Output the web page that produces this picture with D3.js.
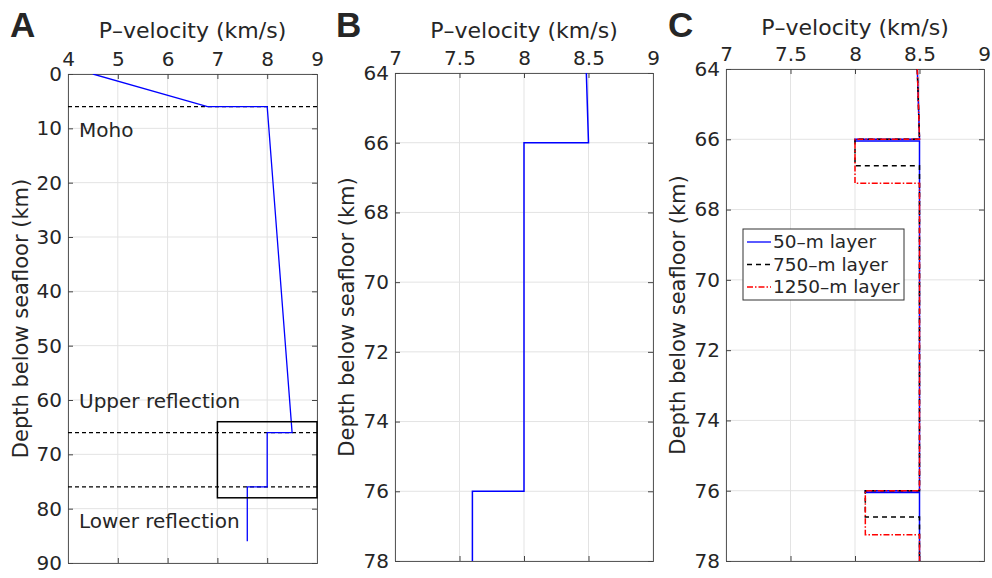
<!DOCTYPE html>
<html>
<head>
<meta charset="utf-8">
<script src="https://cdn.jsdelivr.net/npm/d3@7"></script>
<style>
  body { margin: 0; background: #fff; }
  text { font-family: "DejaVu Sans", sans-serif; fill: #262626; }
</style>
</head>
<body>
<script>
var w = 992, h = 578;

// panel A: full velocity profile
var velA = [4.5, 6.8, 8.0, 8.5, 8.0, 8.0, 7.6, 7.6];
var depthA = [0, 6, 6, 66, 66, 76, 76, 86];
var reflectorDepths = [6, 66, 76];
var zoomBox = { v0: 7, v1: 9, d0: 64, d1: 78 };
var xTicksA = [4, 5, 6, 7, 8, 9], yTicksA = [0, 10, 20, 30, 40, 50, 60, 70, 80, 90];

// panels B and C: zoomed window
var xTicksBC = [7, 7.5, 8, 8.5, 9], yTicksBC = [64, 66, 68, 70, 72, 74, 76, 78];

// panel C: thin low-velocity layers
var depth50 = [64, 66, 66, 66.05, 66.05, 76, 76, 76.05, 76.05, 78];
var depth750 = [64, 66, 66, 66.75, 66.75, 76, 76, 76.75, 76.75, 78];
var depth1250 = [64, 66, 66, 67.25, 67.25, 76, 76, 77.25, 77.25, 78];
var velLayer = [8.483, 8.5, 8.0, 8.0, 8.5, 8.5, 8.08, 8.08, 8.5, 8.5];
var layerNames = ["50–m layer", "750–m layer", "1250–m layer"];

var svg = d3.select("body").append("svg").attr("width", w).attr("height", h);
var defs = svg.append("defs");

function panel(cfg) {
    var x = d3.scaleLinear().domain(cfg.xd).range([cfg.l, cfg.r]);
    var y = d3.scaleLinear().domain(cfg.yd).range([cfg.t, cfg.b]);
    var g = svg.append("g");

    defs.append("clipPath").attr("id", "clip" + cfg.id)
        .append("rect").attr("x", cfg.l).attr("y", cfg.t)
        .attr("width", cfg.r - cfg.l).attr("height", cfg.b - cfg.t);

    // grid
    g.selectAll(".gx").data(cfg.xt).enter().append("line")
        .attr("x1", d => x(d)).attr("x2", d => x(d))
        .attr("y1", cfg.t).attr("y2", cfg.b)
        .attr("stroke", "#e3e3e3").attr("stroke-width", 1);
    g.selectAll(".gy").data(cfg.yt).enter().append("line")
        .attr("y1", d => y(d)).attr("y2", d => y(d))
        .attr("x1", cfg.l).attr("x2", cfg.r)
        .attr("stroke", "#e3e3e3").attr("stroke-width", 1);

    // axes with inward ticks on all four sides
    var top = g.append("g").attr("transform", "translate(0," + cfg.t + ")")
        .call(d3.axisTop(x).tickValues(cfg.xt).tickSize(-5).tickPadding(8).tickFormat(d3.format("~g")));
    var bot = g.append("g").attr("transform", "translate(0," + cfg.b + ")")
        .call(d3.axisBottom(x).tickValues(cfg.xt).tickSize(-5).tickFormat(""));
    var left = g.append("g").attr("transform", "translate(" + cfg.l + ",0)")
        .call(d3.axisLeft(y).tickValues(cfg.yt).tickSize(-5).tickPadding(6).tickFormat(d3.format("~g")));
    var right = g.append("g").attr("transform", "translate(" + cfg.r + ",0)")
        .call(d3.axisRight(y).tickValues(cfg.yt).tickSize(-5).tickFormat(""));
    [top, bot, left, right].forEach(a => {
        a.select(".domain").attr("stroke", "#5a5a5a");
        a.selectAll(".tick line").attr("stroke", "#444");
        a.selectAll("text").style("font-size", "20px").attr("fill", "#262626")
            .style("font-family", '"DejaVu Sans", sans-serif');
    });

    // titles
    g.append("text").attr("x", (cfg.l + cfg.r) / 2).attr("y", cfg.tt)
        .attr("text-anchor", "middle").style("font-size", "22px")
        .text("P–velocity (km/s)");
    g.append("text").attr("transform", "translate(" + cfg.yl + "," + ((cfg.t + cfg.b) / 2) + ") rotate(-90)")
        .attr("text-anchor", "middle").style("font-size", "21px")
        .text("Depth below seafloor (km)");
    g.append("text").attr("x", cfg.lx).attr("y", 37)
        .style("font-family", '"Liberation Sans", Arial, sans-serif')
        .style("font-weight", "bold").style("font-size", "35px").attr("fill", "#000")
        .text(cfg.id);

    var plot = g.append("g").attr("clip-path", "url(#clip" + cfg.id + ")");
    return { x: x, y: y, g: g, plot: plot };
}

function profile(vs, ds) {
    return vs.map((v, i) => [v, ds[i]]);
}

// ---- A ----
var A = panel({ id: "A", xd: [4, 9], yd: [0, 90], xt: xTicksA, yt: yTicksA,
    l: 68, r: 317, t: 74, b: 563, tt: 38, yl: 28, lx: 10 });
var lineA = d3.line().x(d => A.x(d[0])).y(d => A.y(d[1]));
A.plot.selectAll(".refl").data(reflectorDepths).enter().append("line")
    .attr("x1", A.x(4)).attr("x2", A.x(9))
    .attr("y1", d => A.y(d)).attr("y2", d => A.y(d))
    .attr("stroke", "#000").attr("stroke-width", 1.3).attr("stroke-dasharray", "4,3");
A.plot.append("path").datum(profile(velA, depthA))
    .attr("d", lineA).attr("fill", "none").attr("stroke", "#0000ff").attr("stroke-width", 1.3);
A.g.append("rect")
    .attr("x", A.x(zoomBox.v0)).attr("y", A.y(zoomBox.d0))
    .attr("width", A.x(zoomBox.v1) - A.x(zoomBox.v0))
    .attr("height", A.y(zoomBox.d1) - A.y(zoomBox.d0))
    .attr("fill", "none").attr("stroke", "#000").attr("stroke-width", 1.5);
A.g.append("text").attr("x", 79).attr("y", 137).style("font-size", "20px").text("Moho");
A.g.append("text").attr("x", 79).attr("y", 408).style("font-size", "20px").text("Upper reflection");
A.g.append("text").attr("x", 79).attr("y", 528).style("font-size", "20px").text("Lower reflection");

// ---- B ----
var B = panel({ id: "B", xd: [7, 9], yd: [64, 78], xt: xTicksBC, yt: yTicksBC,
    l: 395, r: 653, t: 73, b: 561, tt: 38, yl: 354, lx: 336 });
var lineB = d3.line().x(d => B.x(d[0])).y(d => B.y(d[1]));
B.plot.append("path").datum(profile(velA, depthA))
    .attr("d", lineB).attr("fill", "none").attr("stroke", "#0000ff").attr("stroke-width", 1.5);

// ---- C ----
var C = panel({ id: "C", xd: [7, 9], yd: [64, 78], xt: xTicksBC, yt: yTicksBC,
    l: 726, r: 984, t: 69, b: 561, tt: 35, yl: 685, lx: 668 });
var lineC = d3.line().x(d => C.x(d[0])).y(d => C.y(d[1]));
var styles = [
    { c: "#0000ff", dash: null, depth: depth50 },
    { c: "#000000", dash: "5,4", depth: depth750 },
    { c: "#ff0000", dash: "6,2,1.5,2", depth: depth1250 }
];
styles.forEach(s => {
    C.plot.append("path").datum(profile(velLayer, s.depth))
        .attr("d", lineC).attr("fill", "none").attr("stroke", s.c)
        .attr("stroke-width", 1.5).attr("stroke-dasharray", s.dash);
});

// legend
var leg = C.g.append("g").attr("transform", "translate(743,229)");
leg.append("rect").attr("width", 161).attr("height", 71)
    .attr("fill", "#fff").attr("stroke", "#333").attr("stroke-width", 1);
styles.forEach((s, i) => {
    var yy = 13 + i * 22.5;
    leg.append("line").attr("x1", 4).attr("x2", 28).attr("y1", yy).attr("y2", yy)
        .attr("stroke", s.c).attr("stroke-width", 1.3).attr("stroke-dasharray", s.dash);
    leg.append("text").attr("x", 30).attr("y", yy + 6).style("font-size", "18.5px").text(layerNames[i]);
});
</script>
</body>
</html>
